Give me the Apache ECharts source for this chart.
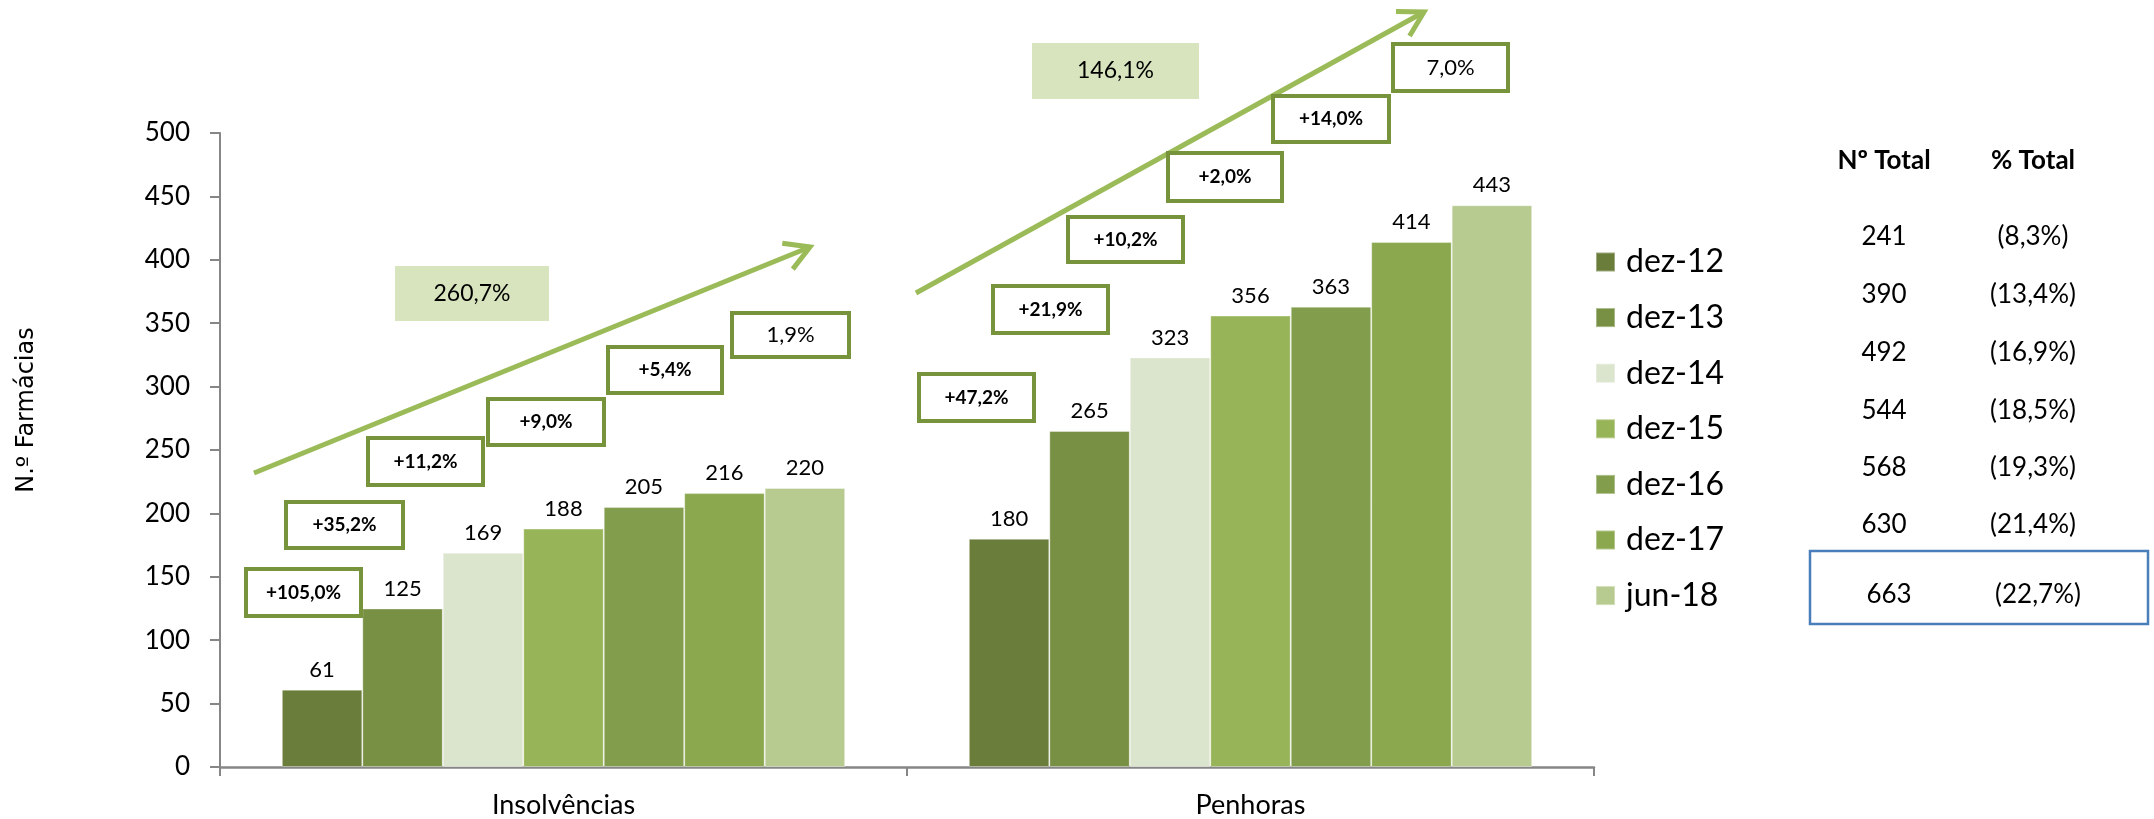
<!DOCTYPE html>
<html>
<head>
<meta charset="utf-8">
<script src="https://cdn.jsdelivr.net/npm/echarts@6/dist/echarts.min.js"></script>
<style>
html,body{margin:0;padding:0;background:#fff;}
#chart{width:2154px;height:819px;}
</style>
</head>
<body>
<div id="chart"></div>
<script>
const categories = ['Insolvências', 'Penhoras'];
const periods = ['dez-12', 'dez-13', 'dez-14', 'dez-15', 'dez-16', 'dez-17', 'jun-18'];
const insolvencias = [61, 125, 169, 188, 205, 216, 220];
const penhoras = [180, 265, 323, 356, 363, 414, 443];
const growthInsolvencias = ['+105,0%', '+35,2%', '+11,2%', '+9,0%', '+5,4%', '1,9%'];
const growthPenhoras = ['+47,2%', '+21,9%', '+10,2%', '+2,0%', '+14,0%', '7,0%'];
const totalGrowth = ['260,7%', '146,1%'];
const tableHeaders = ['Nº Total', '% Total'];
const totalsN = ['241', '390', '492', '544', '568', '630', '663'];
const totalsPct = ['(8,3%)', '(13,4%)', '(16,9%)', '(18,5%)', '(19,3%)', '(21,4%)', '(22,7%)'];
const yTicks = { min: 0, max: 500, interval: 50 };
const yAxisTitle = 'N.º Farmácias';

// ---- styling / layout (not data) ----
const colors = ['#6a7d3b', '#789044', '#dbe4cc', '#97b458', '#829d4b', '#8ba84f', '#b7cb90'];
const FONT = 'Lato, "Liberation Sans", sans-serif';
const boxInsLayout = [[246,569,115,47],[286,502,117,46],[368,438,115,47],[488,399,116,46],[608,347,114,46],[732,313,117,44]];
const boxPenLayout = [[919,374,115,47],[993,286,115,47],[1068,217,115,45],[1168,153,114,48],[1273,96,116,46],[1393,44,115,47]];
const totalBoxLayout = [[395,266,154,55],[1032,43,167,56]];
const arrowLayout = [[[254,473],[810,247]],[[916,293],[1424,12]]];
const tableColX = [1884, 2033];
const tableHeaderY = 161;
const tableRowY = [237, 295, 353, 411, 468, 525, 595];
const highlightBox = [1810, 551, 338, 73];

const chart = echarts.init(document.getElementById('chart'), null, {renderer: 'canvas'});

const series = periods.map((p, i) => ({
  name: p,
  type: 'bar',
  data: [insolvencias[i], penhoras[i]],
  barGap: '0%',
  barCategoryGap: '18%',
  itemStyle: { color: colors[i], borderColor: 'rgba(255,255,255,0.35)', borderWidth: 1 },
  label: { show: true, position: 'top', distance: 9, fontSize: 22, fontFamily: FONT, color: '#000' },
  emphasis: { disabled: true }
}));

const graphic = [];
function growthBox(layout, text, bold) {
  const [x, y, w, h] = layout;
  graphic.push({ type: 'rect', shape: { x, y, width: w, height: h }, style: { fill: '#fff', stroke: '#77933c', lineWidth: 4 }, z: 10 });
  graphic.push({ type: 'text', x: x + w / 2, y: y + h / 2, z: 11,
    style: { text, fill: '#000', font: (bold ? 'bold 19px ' : '22px ') + FONT, textAlign: 'center', textVerticalAlign: 'middle' } });
}
growthInsolvencias.forEach((t, i) => growthBox(boxInsLayout[i], t, i < growthInsolvencias.length - 1));
growthPenhoras.forEach((t, i) => growthBox(boxPenLayout[i], t, i < growthPenhoras.length - 1));
totalGrowth.forEach((t, i) => {
  const [x, y, w, h] = totalBoxLayout[i];
  graphic.push({ type: 'rect', shape: { x, y, width: w, height: h }, style: { fill: '#d7e4bd' }, z: 10 });
  graphic.push({ type: 'text', x: x + w / 2, y: y + h / 2, z: 11,
    style: { text: t, fill: '#000', font: '23px ' + FONT, textAlign: 'center', textVerticalAlign: 'middle' } });
});
arrowLayout.forEach(([a, b]) => {
  graphic.push({ type: 'polyline', shape: { points: [a, b] }, style: { stroke: '#9bbb59', lineWidth: 5 }, z: 9 });
  const ang = Math.atan2(b[1] - a[1], b[0] - a[0]);
  const L = 28, s = Math.PI / 6;
  const p1 = [b[0] - L * Math.cos(ang - s), b[1] - L * Math.sin(ang - s)];
  const p2 = [b[0] - L * Math.cos(ang + s), b[1] - L * Math.sin(ang + s)];
  graphic.push({ type: 'polyline', shape: { points: [p1, b, p2] }, style: { stroke: '#9bbb59', lineWidth: 5, lineJoin: 'miter' }, z: 9 });
});
tableHeaders.forEach((t, i) => {
  graphic.push({ type: 'text', x: tableColX[i], y: tableHeaderY,
    style: { text: t, fill: '#000', font: 'bold 26px ' + FONT, textAlign: 'center', textVerticalAlign: 'middle' } });
});
totalsN.forEach((t, i) => {
  const dx = i === totalsN.length - 1 ? 5 : 0;
  graphic.push({ type: 'text', x: tableColX[0] + dx, y: tableRowY[i],
    style: { text: t, fill: '#000', font: '26px ' + FONT, textAlign: 'center', textVerticalAlign: 'middle' } });
  graphic.push({ type: 'text', x: tableColX[1] + dx, y: tableRowY[i],
    style: { text: totalsPct[i], fill: '#000', font: '26px ' + FONT, textAlign: 'center', textVerticalAlign: 'middle' } });
});
graphic.push({ type: 'rect', shape: { x: highlightBox[0], y: highlightBox[1], width: highlightBox[2], height: highlightBox[3] },
  style: { fill: 'none', stroke: '#4a7ebb', lineWidth: 2.5 } });
graphic.push({ type: 'text', x: 27, y: 410, rotation: Math.PI / 2,
  style: { text: yAxisTitle, fill: '#000', font: '24px "DejaVu Sans", sans-serif', textAlign: 'center', textVerticalAlign: 'middle' } });

chart.setOption({
  backgroundColor: '#fff',
  animation: false,
  grid: { left: 220, right: 560, top: 133, bottom: 52, containLabel: false },
  legend: {
    orient: 'vertical', left: 1595, top: 246, padding: 0,
    itemWidth: 19, itemHeight: 19, itemGap: 23.6,
    icon: 'rect',
    data: periods,
    textStyle: { fontSize: 32, lineHeight: 32, fontFamily: FONT, color: '#000', padding: [0, 0, 0, 6] },
    selectedMode: false
  },
  xAxis: {
    type: 'category', data: categories,
    axisLine: { lineStyle: { color: '#868686', width: 2.5 } },
    axisTick: { show: true, length: 9, lineStyle: { color: '#868686', width: 2 } },
    axisLabel: { fontSize: 27, fontFamily: FONT, color: '#000', margin: 25 }
  },
  yAxis: {
    type: 'value', min: yTicks.min, max: yTicks.max, interval: yTicks.interval,
    axisLine: { show: true, lineStyle: { color: '#868686', width: 2 } },
    axisTick: { show: true, length: 10, lineStyle: { color: '#868686', width: 2 } },
    splitLine: { show: false },
    axisLabel: { fontSize: 26, fontFamily: FONT, color: '#000', margin: 30 }
  },
  series,
  graphic
});
</script>
</body>
</html>
